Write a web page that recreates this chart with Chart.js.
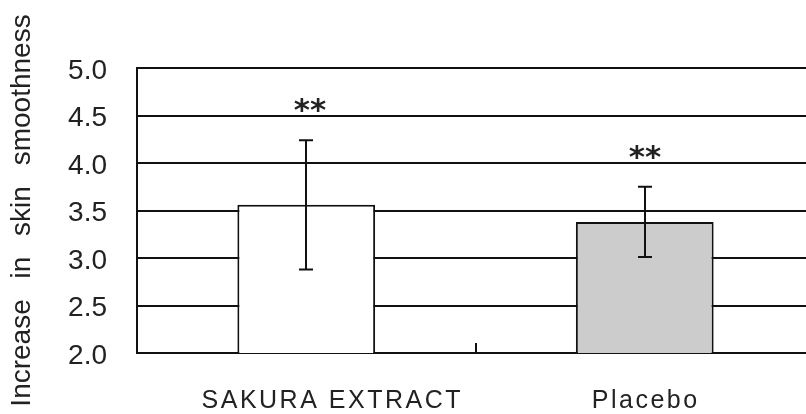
<!DOCTYPE html>
<html>
<head>
<meta charset="utf-8">
<script src="https://cdn.jsdelivr.net/npm/chart.js@4/dist/chart.umd.min.js"></script>
<style>
  html, body { margin: 0; padding: 0; background: #fff; overflow: hidden; }
  #wrap { position: relative; width: 816px; height: 414px; }
</style>
</head>
<body>
<div id="wrap"><canvas id="c"></canvas></div>
<script>
// ---- data ----
const categories = ['SAKURA EXTRACT', 'Placebo'];
const means = [3.56, 3.38];
const errors = [0.68, 0.37];
const sigMarks = ['**', '**'];
const yMin = 2.0, yMax = 5.0, yStep = 0.5;
const yTitle = 'Increase in skin smoothness';

const TEXT = '#222';
const FONT = "'Liberation Sans', Arial, sans-serif";

const extras = {
  id: 'extras',
  beforeDraw(chart) {
    chart.ctx.wordSpacing = '13px';
  },
  afterDatasetsDraw(chart) {
    const ctx = chart.ctx;
    const meta = chart.getDatasetMeta(0);
    const ys = chart.scales.y;
    ctx.save();
    ctx.wordSpacing = '0px';
    ctx.strokeStyle = '#111';
    ctx.lineWidth = 2;
    meta.data.forEach((bar, i) => {
      const x = Math.round(bar.x);
      const yt = ys.getPixelForValue(means[i] + errors[i]);
      const yb = ys.getPixelForValue(means[i] - errors[i]);
      ctx.beginPath();
      ctx.moveTo(x, yt); ctx.lineTo(x, yb);
      ctx.moveTo(x - 7, yt); ctx.lineTo(x + 7, yt);
      ctx.moveTo(x - 7, yb); ctx.lineTo(x + 7, yb);
      ctx.stroke();
      ctx.fillStyle = TEXT;
      ctx.font = "bold 31px 'DejaVu Sans', sans-serif";
      ctx.textAlign = 'center';
      ctx.textBaseline = 'alphabetic';
      ctx.fillText(sigMarks[i], x + (i === 0 ? 4 : 0), yt - 20);
    });
    ctx.restore();
  },
  afterDraw(chart) {
    const ctx = chart.ctx;
    const xs = chart.scales.x;
    const shift = [26, 1];
    ctx.save();
    ctx.wordSpacing = '0px';
    ctx.letterSpacing = '2.5px';
    ctx.fillStyle = TEXT;
    ctx.font = "25px " + FONT;
    ctx.textAlign = 'center';
    ctx.textBaseline = 'alphabetic';
    categories.forEach((c, i) => {
      ctx.fillText(c, xs.getPixelForValue(i) + shift[i], chart.chartArea.bottom + 55);
    });
    ctx.restore();
  }
};

new Chart(document.getElementById('c'), {
  type: 'bar',
  data: {
    labels: categories,
    datasets: [{
      data: means,
      backgroundColor: ['#ffffff', '#cccccc'],
      borderColor: '#111',
      borderWidth: 2,
      borderSkipped: false,
      barPercentage: 0.407,
      categoryPercentage: 1.0
    }]
  },
  options: {
    responsive: true,
    maintainAspectRatio: false,
    animation: false,
    devicePixelRatio: 1,
    layout: { padding: { top: 68, right: 2, bottom: 0, left: 0 } },
    plugins: { legend: { display: false }, tooltip: { enabled: false } },
    scales: {
      x: {
        offset: true,
        grid: {
          offset: true,
          drawOnChartArea: false,
          drawTicks: true,
          tickLength: -10,
          color: '#111',
          lineWidth: 2
        },
        border: { display: true, color: '#111', width: 2 },
        ticks: { display: false },
        afterFit(scale) { scale.height = 61; }
      },
      y: {
        min: yMin,
        max: yMax,
        grid: { color: '#111', lineWidth: 2, drawTicks: false },
        border: { display: true, color: '#111', width: 2 },
        ticks: {
          stepSize: yStep,
          padding: 30,
          labelOffset: 3,
          color: TEXT,
          font: { family: FONT, size: 28 },
          callback: v => Number(v).toFixed(1)
        },
        title: {
          display: true,
          text: yTitle,
          color: TEXT,
          font: { family: FONT, size: 28 },
          padding: { top: 5, bottom: 0 }
        },
        afterFit(scale) { scale.width = 137; }
      }
    }
  },
  plugins: [extras]
});
</script>
</body>
</html>
